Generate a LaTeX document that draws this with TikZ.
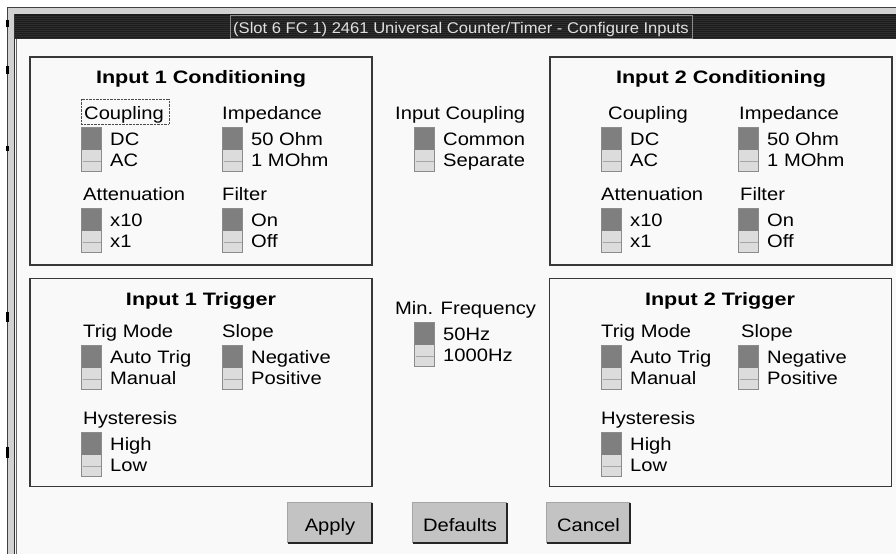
\documentclass[tikz,border=0pt]{standalone}
\usepackage{fontspec}
\setmainfont{Liberation Sans}[FakeStretch=1.12]
\newfontfamily\titfont{Liberation Sans}[FakeStretch=1.2]
\newfontfamily\barfont{Liberation Sans}[FakeStretch=1.07]
\usepackage{tikz}
\usetikzlibrary{positioning,calc}

\definecolor{fondo}{HTML}{F9F9F9}
\definecolor{barra}{HTML}{1C1C1C}
\definecolor{raya}{HTML}{2E2E2E}
\definecolor{palanca}{HTML}{7F7F7F}
\definecolor{ranura}{HTML}{DCDCDC}
\definecolor{boton}{HTML}{C3C3C3}

\begin{document}
\begin{tikzpicture}[x=1pt,y=-1pt,
    panel/.style={draw=black!78, line width=1.5pt, minimum width=342pt, minimum height=208pt, inner sep=0pt},
    etiq/.style={anchor=base west, inner sep=0pt, font=\fontsize{18}{20}\selectfont},
    titulo/.style={anchor=base, inner sep=0pt, font=\titfont\bfseries\fontsize{18}{20}\selectfont},
    boton/.style={fill=boton, inner sep=0pt, minimum height=40pt, text height=17pt, text depth=0pt, font=\fontsize{18}{20}\selectfont},
    interruptor/.pic={
        \fill[ranura] (0,0) rectangle (21,45);
        \fill[palanca] (0,0) rectangle (21,23);
        \draw[black!35] (1.5,34) -- (19.5,34);
        \draw[black!45, line width=1pt] (0.5,0.5) rectangle (20.5,44.5);
    }]
    \useasboundingbox (0,0) rectangle (896,554);
    \fill[white] (0,0) rectangle (896,554);

    % Ventana y marco
    \fill[fondo] (7,7) rectangle (896,554);
    \fill[black!18] (7,7) rectangle (896,14);
    \fill[black!18] (7,7) rectangle (14,554);
    \draw[black!75, line width=1pt] (7.5,554) -- (7.5,7.5) -- (896,7.5);
    \draw[black!80, line width=1pt] (14,554) -- (14,14) -- (896,14);
    \draw[black!60, line width=0.8pt] (16,39) -- (16,554);
    \foreach \a/\b in {20/27,66/74,146/151,312/322,447/458}
        \fill[black] (5.5,\a) rectangle (8.5,\b);

    % Barra de titulo
    \fill[barra] (15,14) rectangle (896,39);
    \foreach \y in {16,18,...,38}
        \draw[raya, line width=0.6pt] (15,\y) -- (896,\y);
    \node[draw=black!45, line width=1pt, inner sep=0pt, minimum width=462pt, minimum height=23pt] (marco) at (461,26.5) {};
    \node[anchor=base, inner sep=0pt, text=white!88!black, font=\barfont\fontsize{15.5}{16}\selectfont] (titulo) at (461,33) {(Slot 6 FC 1) 2461 Universal Counter/Timer - Configure Inputs};

    % Recuadros
    \node[panel] (cond1) at (201,161) {};
    \node[panel] (trig1) at (201,382.5) {};
    \node[panel] (cond2) at (721,161) {};
    \node[panel] (trig2) at (720.5,382.5) {};
    \node[titulo] (tc1) at (201,83) {Input 1 Conditioning};
    \node[titulo] (tt1) at (201,305) {Input 1 Trigger};
    \node[titulo] (tc2) at (721,83) {Input 2 Conditioning};
    \node[titulo] (tt2) at (720,305) {Input 2 Trigger};

    % Interruptores con sus textos
    \foreach \n/\hx/\sx/\sy/\hd/\oa/\ob in {
        c1/84/81/127/Coupling/DC/AC, i1/222/222/127/Impedance/50 Ohm/1 MOhm,
        a1/83/81/208/Attenuation/x10/x1, f1/222/222/208/Filter/On/Off,
        ic/395/414/127/Input Coupling/Common/Separate, mf/395/414/322/Min. Frequency/50Hz/1000Hz,
        t1/83/81/345/Trig Mode/Auto Trig/Manual, s1/222/222/345/Slope/Negative/Positive,
        h1/83/81/432/Hysteresis/High/Low,
        c2/608/601/127/Coupling/DC/AC, i2/739/738/127/Impedance/50 Ohm/1 MOhm,
        a2/601/601/208/Attenuation/x10/x1, f2/740/738/208/Filter/On/Off,
        t2/601/601/345/Trig Mode/Auto Trig/Manual, s2/741/738/345/Slope/Negative/Positive,
        h2/601/601/432/Hysteresis/High/Low} {
        \node[etiq] (\n-h) at (\hx,\sy-8) {\hd};
        \pic at (\sx,\sy) {interruptor};
        \node[etiq] (\n-a) at (\sx+29,\sy+18) {\oa};
        \node[etiq] (\n-b) at (\sx+29,\sy+39.5) {\ob};
    }
    \draw[black!70, densely dotted] ($(c1-h.north west)+(-3,-7)$) rectangle ($(c1-h.south east)+(5,1)$);

    % Botones
    \node[boton, minimum width=84pt] (aplicar) at (330,523) {Apply};
    \node[boton, minimum width=94pt] (defecto) at (460,523) {Defaults};
    \node[boton, minimum width=83pt] (cancelar) at (588.5,523) {Cancel};
    \foreach \b in {aplicar,defecto,cancelar} {
        \draw[black!35, line width=1pt] (\b.south west) -- (\b.north west) -- (\b.north east);
        \draw[black!85, line width=2pt] (\b.south west) -- (\b.south east) -- (\b.north east);
    }
\end{tikzpicture}
\end{document}
